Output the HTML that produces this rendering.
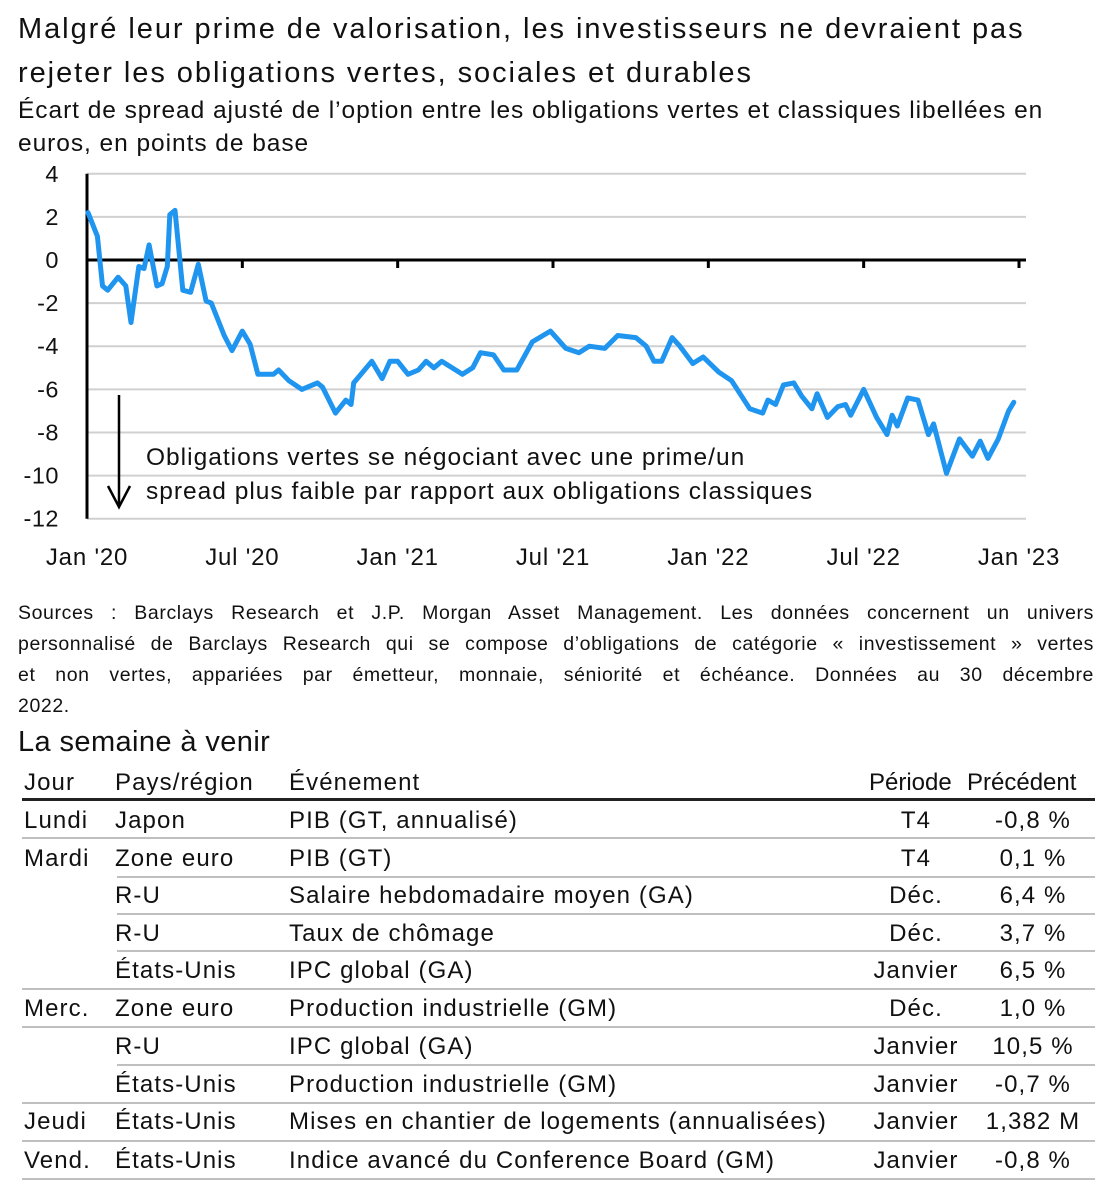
<!DOCTYPE html>
<html><head><meta charset="utf-8">
<style>
body{margin:0;background:#fff;width:1110px;height:1200px;position:relative;overflow:hidden;font-family:"Liberation Sans",sans-serif;color:#111}
.t{position:absolute;white-space:nowrap}
#title{left:18px;top:7px;font-size:29px;line-height:44px;letter-spacing:1.95px}
#sub{left:18px;top:94px;font-size:24.5px;line-height:33px;letter-spacing:0.95px}
#src{left:18px;top:598px;width:1076px;font-size:19.5px;line-height:31px;letter-spacing:0.6px}
#src div{text-align:justify;text-align-last:justify;white-space:nowrap}
#src div.last{text-align-last:left}
#wk{left:18px;top:726px;font-size:29px;letter-spacing:0.4px}
.row{position:absolute;left:18px;width:1077px;height:37px;font-size:24px;letter-spacing:1.1px}
.row span{position:absolute;top:5px;white-space:nowrap}
.c1{left:6px}.c2{left:97px}.c3{left:271px}.c4{left:840px;width:116px;text-align:center}.c5{left:956px;width:118px;text-align:center}
.ln{position:absolute;height:2px;background:#bfbfbf}
</style></head><body>
<div class="t" id="title">Malgré leur prime de valorisation, les investisseurs ne devraient pas<br>rejeter les obligations vertes, sociales et durables</div>
<div class="t" id="sub">Écart de spread ajusté de l’option entre les obligations vertes et classiques libellées en<br>euros, en points de base</div>
<svg id="chart" width="1110" height="590" style="position:absolute;left:0;top:0"></svg>
<div class="t" id="src">
<div>Sources : Barclays Research et J.P. Morgan Asset Management. Les données concernent un univers</div>
<div>personnalisé de Barclays Research qui se compose d’obligations de catégorie « investissement » vertes</div>
<div>et non vertes, appariées par émetteur, monnaie, séniorité et échéance. Données au 30 décembre</div>
<div class="last">2022.</div>
</div>
<div class="t" id="wk">La semaine à venir</div>
<div id="table"></div>
<script>
const months=[0.04,0.4,0.6,0.8,1.2,1.5,1.7,2.0,2.2,2.4,2.7,2.9,3.1,3.2,3.4,3.7,4.0,4.3,4.6,4.8,5.3,5.6,6.0,6.3,6.6,7.2,7.4,7.8,8.3,8.9,9.1,9.6,10.0,10.2,10.3,11.0,11.4,11.7,12.0,12.4,12.8,13.1,13.4,13.7,14.5,14.9,15.2,15.7,16.1,16.6,17.2,17.9,18.5,19.0,19.4,20.0,20.5,21.2,21.6,21.9,22.2,22.6,22.9,23.4,23.8,24.4,24.9,25.6,26.1,26.3,26.6,26.9,27.3,27.6,28.0,28.2,28.6,29.0,29.3,29.5,30.0,30.5,30.9,31.1,31.3,31.7,32.1,32.5,32.7,33.2,33.7,34.2,34.5,34.8,35.2,35.6,35.8];
const values=[2.2,1.1,-1.2,-1.4,-0.8,-1.2,-2.9,-0.3,-0.4,0.7,-1.2,-1.1,-0.3,2.1,2.3,-1.4,-1.5,-0.2,-1.9,-2.0,-3.5,-4.2,-3.3,-3.9,-5.3,-5.3,-5.1,-5.6,-6.0,-5.7,-5.9,-7.1,-6.5,-6.7,-5.7,-4.7,-5.5,-4.7,-4.7,-5.3,-5.1,-4.7,-5.0,-4.7,-5.3,-5.0,-4.3,-4.4,-5.1,-5.1,-3.8,-3.3,-4.1,-4.3,-4.0,-4.1,-3.5,-3.6,-4.0,-4.7,-4.7,-3.6,-4.0,-4.8,-4.5,-5.2,-5.6,-6.9,-7.1,-6.5,-6.7,-5.8,-5.7,-6.3,-6.9,-6.2,-7.3,-6.8,-6.7,-7.2,-6.0,-7.3,-8.1,-7.2,-7.7,-6.4,-6.5,-8.1,-7.6,-9.9,-8.3,-9.1,-8.4,-9.2,-8.3,-7.0,-6.6];
const yTicks=[4,2,0,-2,-4,-6,-8,-10,-12];
const xTickMonths=[0,6,12,18,24,30,36];
const xTickLabels=["Jan '20","Jul '20","Jan '21","Jul '21","Jan '22","Jul '22","Jan '23"];
const NS="http://www.w3.org/2000/svg";
const svg=document.getElementById('chart');
const X=m=>87+m*(932/36);
const Y=v=>260-v*21.56;
function mk(tag,attrs,parent){const e=document.createElementNS(NS,tag);for(const k in attrs)e.setAttribute(k,attrs[k]);(parent||svg).appendChild(e);return e;}
yTicks.forEach(v=>{
  const g=mk('line',{x1:87,x2:1026,y1:Y(v),y2:Y(v),stroke:'#d0d0d0','stroke-width':2});
  
  
  const t=mk('text',{x:59,y:Y(v)+8,'text-anchor':'end','font-size':23.5,'font-family':'Liberation Sans, sans-serif',fill:'#111','letter-spacing':'0.5'});
  t.textContent=v;
  
  
});
const ya=mk('line',{x1:87,x2:87,y1:Y(4),y2:Y(-12),stroke:'#000','stroke-width':3});


const xa=mk('line',{x1:87,x2:1026,y1:Y(0),y2:Y(0),stroke:'#000','stroke-width':3});


xTickMonths.forEach((m,i)=>{
  if(m>0){const tk=mk('line',{x1:X(m),x2:X(m),y1:Y(0),y2:Y(0)+8,stroke:'#000','stroke-width':3});
  
  }
  const t=mk('text',{x:X(m),y:565,'text-anchor':'middle','font-size':24,'font-family':'Liberation Sans, sans-serif',fill:'#111','letter-spacing':'0.8'});
  t.textContent=xTickLabels[i];
  
  
});
const pts=months.map((m,i)=>X(m).toFixed(1)+','+Y(values[i]).toFixed(1)).join(' ');
const pl=mk('polyline',{points:pts,fill:'none',stroke:'#1f95f0','stroke-width':5,'stroke-linejoin':'round','stroke-linecap':'round'});


const ar=mk('path',{d:'M119 395 L119 507 M108 486 L119 507 L130 486',fill:'none',stroke:'#000','stroke-width':2.5});


['Obligations vertes se négociant avec une prime/un','spread plus faible par rapport aux obligations classiques'].forEach((s,i)=>{
  const t=mk('text',{x:146,y:465+i*34,'font-size':24.5,'font-family':'Liberation Sans, sans-serif',fill:'#111','letter-spacing':'1.0'});
  t.textContent=s;
  
  
});

const rows=[
 ["Jour","Pays/région","Événement","Période","Précédent"],
 ["Lundi","Japon","PIB (GT, annualisé)","T4","-0,8 %"],
 ["Mardi","Zone euro","PIB (GT)","T4","0,1 %"],
 ["","R-U","Salaire hebdomadaire moyen (GA)","Déc.","6,4 %"],
 ["","R-U","Taux de chômage","Déc.","3,7 %"],
 ["","États-Unis","IPC global (GA)","Janvier","6,5 %"],
 ["Merc.","Zone euro","Production industrielle (GM)","Déc.","1,0 %"],
 ["","R-U","IPC global (GA)","Janvier","10,5 %"],
 ["","États-Unis","Production industrielle (GM)","Janvier","-0,7 %"],
 ["Jeudi","États-Unis","Mises en chantier de logements (annualisées)","Janvier","1,382 M"],
 ["Vend.","États-Unis","Indice avancé du Conference Board (GM)","Janvier","-0,8 %"]];
const rowTops=[764,802,840,877,915,952,990,1028,1066,1103,1142];
const lineY=[837,876,913,950,988,1026,1064,1102,1140,1178];
const lineLeft=[18,113,113,113,18,18,113,18,18,18];
const tb=document.getElementById('table');
rows.forEach((r,i)=>{
  const d=document.createElement('div');d.className='row';d.style.top=rowTops[i]+'px';
  
  
  r.forEach((c,j)=>{const s=document.createElement('span');s.className='c'+(j+1);s.textContent=c;d.appendChild(s);});
  if(i==0){d.children[3].style.cssText='left:851px;width:auto;text-align:left;letter-spacing:0';d.children[4].style.cssText='left:949px;width:auto;text-align:left;letter-spacing:0';}
  tb.appendChild(d);
});
const hl=document.createElement('div');hl.className='ln';hl.style.cssText='left:22px;width:1073px;top:798px;height:3px;background:#222';


tb.appendChild(hl);
lineY.forEach((y,i)=>{const l=document.createElement('div');l.className='ln';l.style.top=y+'px';l.style.left=(lineLeft[i]+4)+'px';l.style.width=(1095-lineLeft[i]-4)+'px';
  
  
  tb.appendChild(l);});
</script>
</body></html>
